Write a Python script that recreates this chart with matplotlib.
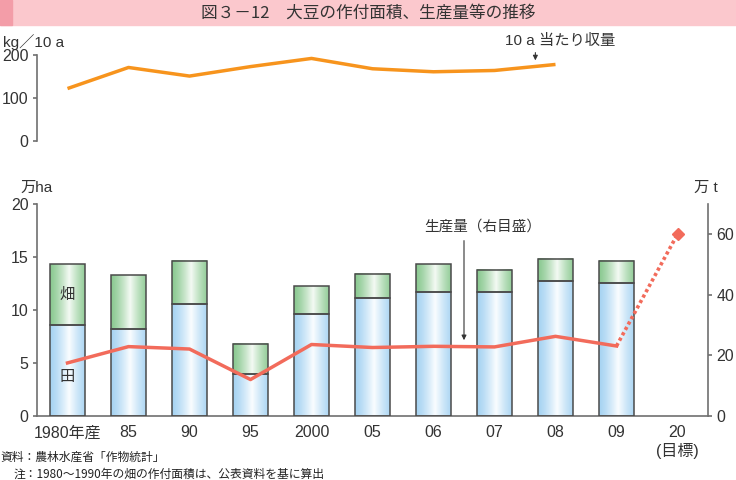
import numpy as np
import matplotlib
matplotlib.use('Agg')
import matplotlib.pyplot as plt
from matplotlib.patches import Rectangle

plt.rcParams['font.family'] = ['Liberation Sans', 'Noto Sans CJK JP', 'DejaVu Sans']

# ---------------- data ----------------
categories = ['1980年産', '85', '90', '95', '2000', '05', '06', '07', '08', '09', '20\n(目標)']
paddy = [8.6, 8.2, 10.5, 3.9, 9.6, 11.1, 11.7, 11.7, 12.7, 12.5]       # 田 (万ha)
total = [14.3, 13.3, 14.6, 6.8, 12.2, 13.4, 14.3, 13.8, 14.8, 14.6]    # 田+畑 (万ha)
upland = [round(t - p, 2) for t, p in zip(total, paddy)]               # 畑 (万ha)
production = [17.4, 22.8, 22.0, 11.9, 23.5, 22.5, 22.9, 22.7, 26.2, 23.0]  # 万t
production_target_2020 = 60.0
yield_10a = [122, 171, 151, 173, 192, 168, 161, 164, 178]              # kg/10a

TXT = '#333333'
SPINE = '#707070'
TICK_FS = 11.5

W, H = 736, 480
fig = plt.figure(figsize=(W / 100, H / 100), dpi=100)

# title bar
fig.patches.append(Rectangle((0, 1 - 25 / H), 1, 25 / H, transform=fig.transFigure,
                             color='#FBC8CD', zorder=0))
fig.patches.append(Rectangle((0, 1 - 25 / H), 12 / W, 25 / H, transform=fig.transFigure,
                             color='#F39DA8', zorder=0))
fig.text(368 / W, 1 - 13 / H, '図３－12　大豆の作付面積、生産量等の推移',
         ha='center', va='center', fontsize=12, color=TXT,
         family=['Noto Sans CJK JP', 'DejaVu Sans'])

x = np.arange(len(categories))
xl = (-0.5, len(categories) - 0.5)

# ---------------- top chart: yield ----------------
ax_t = fig.add_axes([37 / W, 1 - 141 / H, 671 / W, 86 / H])
ax_t.plot(x[:len(yield_10a)], yield_10a, color='#F7941D', lw=2.5, solid_capstyle='butt')
ax_t.set_xlim(*xl)
ax_t.set_ylim(0, 200)
ax_t.set_yticks([0, 100, 200])
ax_t.set_xticks([])
for s in ['top', 'right', 'bottom']:
    ax_t.spines[s].set_visible(False)
ax_t.spines['left'].set_color(SPINE)
ax_t.spines['left'].set_linewidth(1.2)
ax_t.tick_params(axis='y', direction='out', length=3, width=1.2, color=SPINE,
                 labelsize=TICK_FS, labelcolor=TXT, pad=3)
ax_t.patch.set_alpha(0)
fig.text(34 / W, 1 - 42 / H, 'kg／10 a', ha='center', va='center', fontsize=11, color=TXT)
ax_t.annotate('', xy=(7.67, 181), xytext=(7.67, 212), annotation_clip=False,
              arrowprops=dict(arrowstyle='-|>', color=TXT, lw=0.8, mutation_scale=7))
ax_t.text(8.07, 232, '10 a 当たり収量', ha='center', va='center', fontsize=11,
          color=TXT, clip_on=False)

# ---------------- bottom chart: area bars ----------------
ax = fig.add_axes([37 / W, 1 - 415.5 / H, 671 / W, 211.5 / H])
bw = 0.57


def gradient(edge, center, n=64):
    t = np.linspace(0, 1, n)
    f = np.clip(1 - np.abs(t - 0.55) / 0.55, 0, 1) ** 1.3
    e = np.array(matplotlib.colors.to_rgb(edge))
    c = np.array(matplotlib.colors.to_rgb(center))
    return (e[None, :] * (1 - f[:, None]) + c[None, :] * f[:, None])[None, :, :]


g_blue = gradient('#A6D3F2', '#FAFDFF')
g_green = gradient('#8BC991', '#F4FAF4')

xb = x[:len(paddy)]
b1 = ax.bar(xb, paddy, bw, facecolor='none', edgecolor='#4a4a4a', lw=1.1, zorder=3)
b2 = ax.bar(xb, upland, bw, bottom=paddy, facecolor='none', edgecolor='#4a4a4a', lw=1.1, zorder=3)
for bars, g in ((b1, g_blue), (b2, g_green)):
    for r in bars:
        x0, y0, w, h = r.get_x(), r.get_y(), r.get_width(), r.get_height()
        ax.imshow(g, extent=[x0, x0 + w, y0, y0 + h], aspect='auto',
                  interpolation='bilinear', zorder=2)

ax.set_xlim(*xl)
ax.set_ylim(0, 20)
ax.set_yticks([0, 5, 10, 15, 20])
ax.set_xticks(x)
ax.set_xticklabels(categories)
for s in ['top', 'right']:
    ax.spines[s].set_visible(False)
for s in ['left', 'bottom']:
    ax.spines[s].set_color(SPINE)
    ax.spines[s].set_linewidth(1.2)
ax.tick_params(axis='y', direction='out', length=3, width=1.2, color=SPINE,
               labelsize=TICK_FS, labelcolor=TXT, pad=3)
ax.tick_params(axis='x', length=0, labelsize=TICK_FS, labelcolor=TXT, pad=7)
ax.text(0, 11.4, '畑', ha='center', va='center', fontsize=11, color=TXT, zorder=5)
ax.text(0, 3.6, '田', ha='center', va='center', fontsize=11, color=TXT, zorder=5)
fig.text(37 / W, 1 - 188 / H, '万ha', ha='center', va='center', fontsize=11, color=TXT)

# ---------------- production (right axis) ----------------
ax2 = ax.twinx()
RED = '#F26B5B'
ax2.plot(xb, production, color=RED, lw=2.5, zorder=4)
ax2.plot([xb[-1], x[-1]], [production[-1], production_target_2020], color=RED, lw=2.6,
         linestyle=(0, (0.9, 0.8)), zorder=4)
ax2.plot([x[-1]], [production_target_2020], marker='D', ms=6.5, color=RED, zorder=5)
ax2.set_ylim(0, 70)
ax2.set_yticks([0, 20, 40, 60])
for s in ['top', 'left', 'bottom']:
    ax2.spines[s].set_visible(False)
ax2.spines['right'].set_color(SPINE)
ax2.spines['right'].set_linewidth(1.2)
ax2.tick_params(axis='y', direction='out', length=3, width=1.2, color=SPINE,
                labelsize=TICK_FS, labelcolor=TXT, pad=3)
ax2.set_xlim(*xl)
ax2.annotate('', xy=(6.5, 24.0), xytext=(6.5, 58.8),
             arrowprops=dict(arrowstyle='-|>', color=TXT, lw=0.8, mutation_scale=7))
ax2.text(6.81, 62.5, '生産量（右目盛）', ha='center', va='center', fontsize=10.5, color=TXT)
fig.text(706 / W, 1 - 188 / H, '万 t', ha='center', va='center', fontsize=11, color=TXT)

# ---------------- notes ----------------
fig.text(0 / W, 1 - 457 / H, '資料：農林水産省「作物統計」', ha='left', va='center',
         fontsize=8.5, color='#222222', family=['Noto Sans CJK JP', 'DejaVu Sans'])
fig.text(14 / W, 1 - 474 / H, '注：1980〜1990年の畑の作付面積は、公表資料を基に算出',
         ha='left', va='center', fontsize=8.5, color='#222222',
         family=['Noto Sans CJK JP', 'DejaVu Sans'])

fig.savefig('out.png', dpi=100)
